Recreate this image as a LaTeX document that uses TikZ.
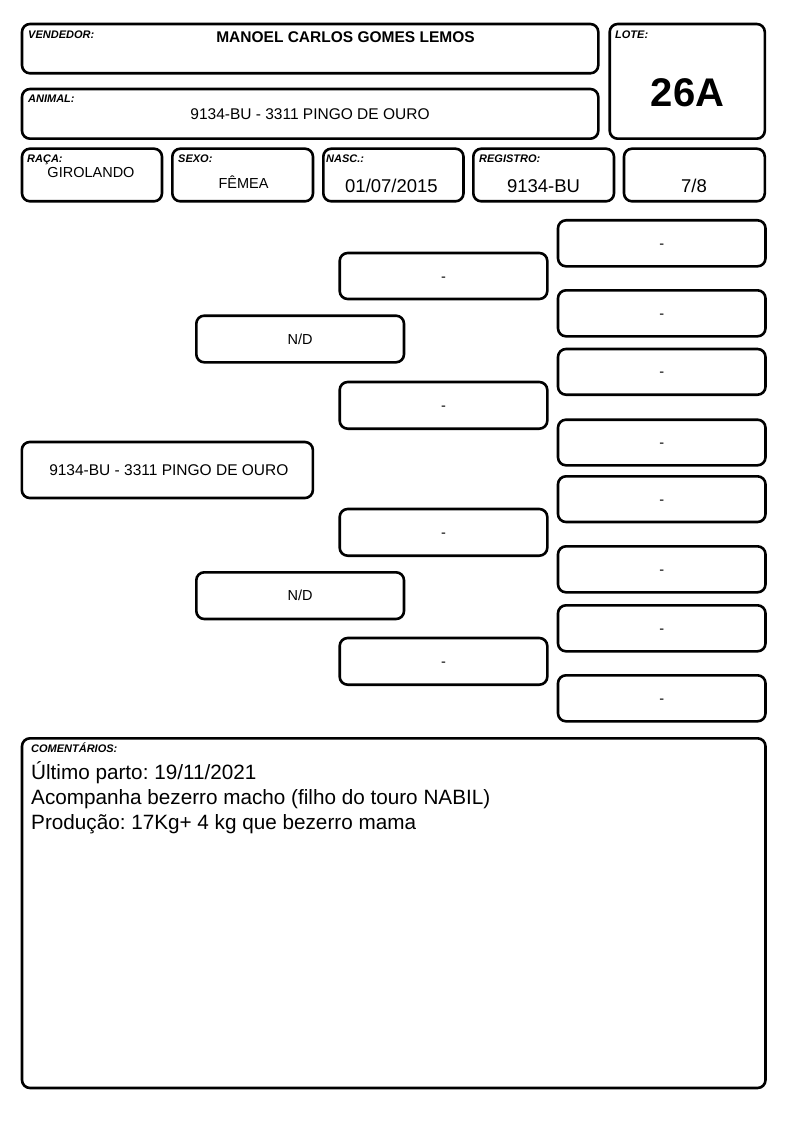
\documentclass[tikz,border=0pt]{standalone}
\usepackage{fontspec}
\setmainfont{Liberation Sans}
\frenchspacing
\newcommand\fsz[1]{\fontsize{#1}{#1}\selectfont}
\newcommand\mkbox[5]{\node[box, minimum width={#4-#2}, minimum height={#5-#3}] (#1) at ({(#2+#4)/2},{(#3+#5)/2}) {};}
\tikzset{
  box/.style={draw=black, line width=2.6pt, rounded corners=8pt, inner sep=0pt, outer sep=0pt, fill=white},
  lbl/.style={font=\fsz{11}\bfseries\itshape, anchor=base west, inner sep=0pt},
  val/.style={anchor=base, inner sep=0pt},
  ped/.style={anchor=base, inner sep=0pt, font=\fsz{14.5}},
  com/.style={anchor=base west, inner sep=0pt, font=\fsz{20.7}},
}
\begin{document}
\begin{tikzpicture}[x=1pt,y=-1pt]
\useasboundingbox[fill=white] (0,0) rectangle (794,1123);
% header boxes
\mkbox{vend}{22}{24}{598.3}{73.3}
\mkbox{anim}{22}{89}{598.3}{138.7}
\mkbox{lote}{609.7}{24}{764.8}{138.7}
\mkbox{raca}{22}{148.7}{162}{201.3}
\mkbox{sexo}{172.3}{148.7}{313}{201.3}
\mkbox{nasc}{323.3}{148.7}{463.5}{201.3}
\mkbox{regi}{473.3}{148.7}{614}{201.3}
\mkbox{frac}{624}{148.7}{764.8}{201.3}
% header labels and values
\node[lbl] (lvend) at (28,39) {VENDEDOR:};
\node[val, font=\fsz{15.5}\bfseries] (tvend) at (345.5,43) {MANOEL CARLOS GOMES LEMOS};
\node[lbl] (llote) at (615,39) {LOTE:};
\node[val, font=\fsz{40}\bfseries] (tlote) at (687.5,106.5) {26A};
\node[lbl] (lanim) at (28,103) {ANIMAL:};
\node[val, font=\fsz{15.5}] (tanim) at (310,119.5) {9134-BU - 3311 PINGO DE OURO};
\node[lbl] (lraca) at (27,162.5) {RAÇA:};
\node[val, font=\fsz{14.5}] (traca) at (91,178) {GIROLANDO};
\node[lbl] (lsexo) at (178,163) {SEXO:};
\node[val, font=\fsz{14.5}] (tsexo) at (243.5,189) {FÊMEA};
\node[lbl] (lnasc) at (326,163) {NASC.:};
\node[val, font=\fsz{18.5}] (tnasc) at (391.5,193) {01/07/2015};
\node[lbl] (lregi) at (479,163) {REGISTRO:};
\node[val, font=\fsz{18.5}] (tregi) at (543.5,193) {9134-BU};
\node[val, font=\fsz{18.5}] (tfrac) at (694,193) {7/8};
% pedigree: column 3
\mkbox{g1}{558}{220.3}{765.5}{266.3}
\mkbox{g2}{558}{290.3}{765.5}{336.3}
\mkbox{g3}{558}{349}{765.5}{394.7}
\mkbox{g4}{558}{419.7}{765.5}{465.3}
\mkbox{g5}{558}{476.3}{765.5}{522}
\mkbox{g6}{558}{546.3}{765.5}{592.3}
\mkbox{g7}{558}{605.3}{765.5}{651.3}
\mkbox{g8}{558}{675.3}{765.5}{721.3}
% column 2
\mkbox{ga}{339.7}{253}{547.3}{299}
\mkbox{gb}{339.7}{382}{547.3}{428.7}
\mkbox{gc}{339.7}{509}{547.3}{555.7}
\mkbox{gd}{339.7}{638}{547.3}{684.7}
% column 1
\mkbox{pa}{196.3}{315.7}{404}{362.3}
\mkbox{pb}{196.3}{572.3}{404}{619}
% subject
\mkbox{subj}{21.8}{442}{312.9}{498}
% pedigree texts
\foreach \n in {g1,g2,g3,g4,g5,g6,g7,g8,ga,gb,gc,gd}{
  \node[ped] (t\n) at ([yshift=-5pt]\n.center) {-};
}
\node[ped] (tpa) at ([yshift=-5.2pt]pa.center) {N/D};
\node[ped] (tpb) at ([yshift=-5.2pt]pb.center) {N/D};
\node[ped, font=\fsz{15.5}] (tsubj) at ([xshift=1.5pt,yshift=-5.8pt]subj.center) {9134-BU - 3311 PINGO DE OURO};
% comments
\mkbox{coms}{22}{738.3}{765.5}{1088}
\node[lbl] (lcoms) at (31,752.5) {COMENTÁRIOS:};
\node[com] (c1) at (31,779) {Último parto: 19/11/2021};
\node[com] (c2) at (31,804) {Acompanha bezerro macho (filho do touro NABIL)};
\node[com] (c3) at (31,829) {Produção: 17Kg+ 4 kg que bezerro mama};
\end{tikzpicture}
\end{document}
